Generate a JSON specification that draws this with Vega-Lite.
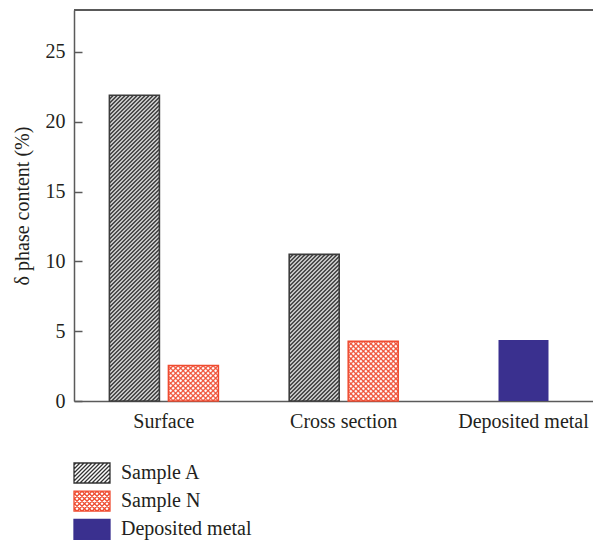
{
"$schema": "https://vega.github.io/schema/vega-lite/v6.json",
"width": 519,
"height": 391,
"autosize": {"type": "none"},
"padding": {"left": 74, "top": 10, "right": 0, "bottom": 141},
"background": "white",
"config": {"view": {"stroke": null}, "font": "Liberation Serif"},
"data": {"values": [
 {"category": "Surface", "series": "Sample A", "value": 21.9},
 {"category": "Surface", "series": "Sample N", "value": 2.55},
 {"category": "Cross section", "series": "Sample A", "value": 10.5},
 {"category": "Cross section", "series": "Sample N", "value": 4.27},
 {"category": "Deposited metal", "series": "Deposited metal", "value": 4.37}
]},
"layer": [
 {
  "transform": [{"filter": "datum.category !== 'Deposited metal'"}],
  "mark": {"type": "bar"},
  "encoding": {
   "x": {"field": "category", "type": "nominal", "sort": ["Surface", "Cross section", "Deposited metal"],
    "scale": {"domain": ["Surface", "Cross section", "Deposited metal"], "range": [0, 539.4], "paddingInner": 0, "paddingOuter": 0},
    "axis": {"title": null, "ticks": false, "grid": false, "domainColor": "#5a5a5a", "domainWidth": 1.5, "labelAngle": 0,
     "labelFont": "Liberation Serif", "labelFontSize": 20, "labelColor": "#231f20", "labelPadding": 10, "labelOverlap": false}},
   "xOffset": {"field": "series", "type": "nominal", "scale": {"domain": ["Sample A", "Sample N"], "paddingInner": 0.1525, "paddingOuter": 0.6}},
   "y": {"field": "value", "type": "quantitative", "scale": {"domain": [0, 28], "nice": false},
    "axis": {"title": "δ phase content (%)", "grid": false, "values": [0, 2.5, 5, 7.5, 10, 12.5, 15, 17.5, 20, 22.5, 25, 27.5],
     "domainColor": "#5a5a5a", "domainWidth": 1.5, "tickColor": "#5a5a5a", "tickWidth": 1.5, "tickSize": -8,
     "encode": {"ticks": {"update": {"x2": {"signal": "datum.value % 5 === 0 ? 8 : 4"}}}},
     "labelExpr": "datum.value % 5 === 0 ? '' + datum.value : ''", "labelOverlap": false,
     "labelFont": "Liberation Serif", "labelFontSize": 20, "labelColor": "#231f20", "labelPadding": 17,
     "titleFont": "Liberation Serif", "titleFontSize": 20, "titleFontWeight": "normal", "titleColor": "#231f20", "titlePadding": 13}},
   "color": {"field": "series", "type": "nominal",
    "scale": {"domain": ["Sample A", "Sample N", "Deposited metal"], "range": ["#ffffff", "#ffffff", "#3a308f"]},
    "legend": {"orient": "none", "legendX": 7, "legendY": 452, "direction": "vertical", "title": null, "padding": 0, "offset": 0,
     "symbolSize": 400, "symbolType": "M-1.8,-1H1.8V1H-1.8Z", "symbolStrokeWidth": 1.3,
     "labelFont": "Liberation Serif", "labelFontSize": 20, "labelColor": "#231f20", "labelOffset": 18, "rowPadding": 2.2, "labelLimit": 300,
     "encode": {"symbols": {"update": {
      "shape": {"signal": "datum.value === 'Sample A' ? 'M-1.8,-1H1.8V1H-1.8ZM-1.8,-0.8L-1.6,-1M-1.8,-0.4L-1.2,-1M-1.8,0L-0.8,-1M-1.8,0.4L-0.4,-1M-1.8,0.8L0,-1M-1.6,1L0.4,-1M-1.2,1L0.8,-1M-0.8,1L1.2,-1M-0.4,1L1.6,-1M0,1L1.8,-0.8M0.4,1L1.8,-0.4M0.8,1L1.8,0M1.2,1L1.8,0.4M1.6,1L1.8,0.8' : datum.value === 'Sample N' ? 'M-1.8,-1H1.8V1H-1.8ZM-1.8,-0.7L-1.5,-1M-1.8,-0.2L-1,-1M-1.8,0.3L-0.5,-1M-1.8,0.8L0,-1M-1.5,1L0.5,-1M-1,1L1,-1M-0.5,1L1.5,-1M0,1L1.8,-0.8M0.5,1L1.8,-0.3M1,1L1.8,0.2M1.5,1L1.8,0.7M1.8,-0.7L1.5,-1M1.8,-0.2L1,-1M1.8,0.3L0.5,-1M1.8,0.8L0,-1M1.5,1L-0.5,-1M1,1L-1,-1M0.5,1L-1.5,-1M0,1L-1.8,-0.8M-0.5,1L-1.8,-0.3M-1,1L-1.8,0.2M-1.5,1L-1.8,0.7' : 'M-1.8,-1H1.8V1H-1.8Z'"},
      "fill": {"signal": "datum.value === 'Deposited metal' ? '#3a308f' : '#ffffff'"},
      "stroke": {"signal": "datum.value === 'Sample A' ? '#333333' : datum.value === 'Sample N' ? '#ef4b30' : '#3a308f'"},
      "strokeWidth": {"value": 1.3},
      "opacity": {"value": 1}
     }}}}}
  }
 },
 {
  "transform": [{"filter": "datum.category === 'Deposited metal'"}],
  "mark": {"type": "bar", "width": 50},
  "encoding": {
   "x": {"field": "category", "type": "nominal", "sort": ["Surface", "Cross section", "Deposited metal"], "scale": {"domain": ["Surface", "Cross section", "Deposited metal"], "range": [0, 539.4], "paddingInner": 0, "paddingOuter": 0}},
   "y": {"field": "value", "type": "quantitative", "scale": {"domain": [0, 28], "nice": false}},
   "color": {"field": "series", "type": "nominal", "scale": {"domain": ["Sample A", "Sample N", "Deposited metal"], "range": ["#ffffff", "#ffffff", "#3a308f"]}, "legend": null}
  }
 },
 {
  "transform": [{"filter": "datum.category === 'Surface' && datum.series === 'Sample A'"}],
  "mark": {"type": "bar", "stroke": "#3c3c3c", "strokeWidth": 1.6,
   "fill": {"gradient": "linear", "x1": 0, "y1": 0, "x2": 0.2083, "y2": 1.274, "stops": [
{"offset":0,"color":"#111"},{"offset":0.005,"color":"#fff"},{"offset":0.01,"color":"#111"},{"offset":0.015,"color":"#fff"},{"offset":0.02,"color":"#111"},{"offset":0.025,"color":"#fff"},{"offset":0.03,"color":"#111"},{"offset":0.035,"color":"#fff"},{"offset":0.04,"color":"#111"},{"offset":0.045,"color":"#fff"},{"offset":0.05,"color":"#111"},{"offset":0.055,"color":"#fff"},{"offset":0.06,"color":"#111"},{"offset":0.065,"color":"#fff"},{"offset":0.07,"color":"#111"},{"offset":0.075,"color":"#fff"},{"offset":0.08,"color":"#111"},{"offset":0.085,"color":"#fff"},{"offset":0.09,"color":"#111"},{"offset":0.095,"color":"#fff"},
{"offset":0.1,"color":"#111"},{"offset":0.105,"color":"#fff"},{"offset":0.11,"color":"#111"},{"offset":0.115,"color":"#fff"},{"offset":0.12,"color":"#111"},{"offset":0.125,"color":"#fff"},{"offset":0.13,"color":"#111"},{"offset":0.135,"color":"#fff"},{"offset":0.14,"color":"#111"},{"offset":0.145,"color":"#fff"},{"offset":0.15,"color":"#111"},{"offset":0.155,"color":"#fff"},{"offset":0.16,"color":"#111"},{"offset":0.165,"color":"#fff"},{"offset":0.17,"color":"#111"},{"offset":0.175,"color":"#fff"},{"offset":0.18,"color":"#111"},{"offset":0.185,"color":"#fff"},{"offset":0.19,"color":"#111"},{"offset":0.195,"color":"#fff"},
{"offset":0.2,"color":"#111"},{"offset":0.205,"color":"#fff"},{"offset":0.21,"color":"#111"},{"offset":0.215,"color":"#fff"},{"offset":0.22,"color":"#111"},{"offset":0.225,"color":"#fff"},{"offset":0.23,"color":"#111"},{"offset":0.235,"color":"#fff"},{"offset":0.24,"color":"#111"},{"offset":0.245,"color":"#fff"},{"offset":0.25,"color":"#111"},{"offset":0.255,"color":"#fff"},{"offset":0.26,"color":"#111"},{"offset":0.265,"color":"#fff"},{"offset":0.27,"color":"#111"},{"offset":0.275,"color":"#fff"},{"offset":0.28,"color":"#111"},{"offset":0.285,"color":"#fff"},{"offset":0.29,"color":"#111"},{"offset":0.295,"color":"#fff"},
{"offset":0.3,"color":"#111"},{"offset":0.305,"color":"#fff"},{"offset":0.31,"color":"#111"},{"offset":0.315,"color":"#fff"},{"offset":0.32,"color":"#111"},{"offset":0.325,"color":"#fff"},{"offset":0.33,"color":"#111"},{"offset":0.335,"color":"#fff"},{"offset":0.34,"color":"#111"},{"offset":0.345,"color":"#fff"},{"offset":0.35,"color":"#111"},{"offset":0.355,"color":"#fff"},{"offset":0.36,"color":"#111"},{"offset":0.365,"color":"#fff"},{"offset":0.37,"color":"#111"},{"offset":0.375,"color":"#fff"},{"offset":0.38,"color":"#111"},{"offset":0.385,"color":"#fff"},{"offset":0.39,"color":"#111"},{"offset":0.395,"color":"#fff"},
{"offset":0.4,"color":"#111"},{"offset":0.405,"color":"#fff"},{"offset":0.41,"color":"#111"},{"offset":0.415,"color":"#fff"},{"offset":0.42,"color":"#111"},{"offset":0.425,"color":"#fff"},{"offset":0.43,"color":"#111"},{"offset":0.435,"color":"#fff"},{"offset":0.44,"color":"#111"},{"offset":0.445,"color":"#fff"},{"offset":0.45,"color":"#111"},{"offset":0.455,"color":"#fff"},{"offset":0.46,"color":"#111"},{"offset":0.465,"color":"#fff"},{"offset":0.47,"color":"#111"},{"offset":0.475,"color":"#fff"},{"offset":0.48,"color":"#111"},{"offset":0.485,"color":"#fff"},{"offset":0.49,"color":"#111"},{"offset":0.495,"color":"#fff"},
{"offset":0.5,"color":"#111"},{"offset":0.505,"color":"#fff"},{"offset":0.51,"color":"#111"},{"offset":0.515,"color":"#fff"},{"offset":0.52,"color":"#111"},{"offset":0.525,"color":"#fff"},{"offset":0.53,"color":"#111"},{"offset":0.535,"color":"#fff"},{"offset":0.54,"color":"#111"},{"offset":0.545,"color":"#fff"},{"offset":0.55,"color":"#111"},{"offset":0.555,"color":"#fff"},{"offset":0.56,"color":"#111"},{"offset":0.565,"color":"#fff"},{"offset":0.57,"color":"#111"},{"offset":0.575,"color":"#fff"},{"offset":0.58,"color":"#111"},{"offset":0.585,"color":"#fff"},{"offset":0.59,"color":"#111"},{"offset":0.595,"color":"#fff"},
{"offset":0.6,"color":"#111"},{"offset":0.605,"color":"#fff"},{"offset":0.61,"color":"#111"},{"offset":0.615,"color":"#fff"},{"offset":0.62,"color":"#111"},{"offset":0.625,"color":"#fff"},{"offset":0.63,"color":"#111"},{"offset":0.635,"color":"#fff"},{"offset":0.64,"color":"#111"},{"offset":0.645,"color":"#fff"},{"offset":0.65,"color":"#111"},{"offset":0.655,"color":"#fff"},{"offset":0.66,"color":"#111"},{"offset":0.665,"color":"#fff"},{"offset":0.67,"color":"#111"},{"offset":0.675,"color":"#fff"},{"offset":0.68,"color":"#111"},{"offset":0.685,"color":"#fff"},{"offset":0.69,"color":"#111"},{"offset":0.695,"color":"#fff"},
{"offset":0.7,"color":"#111"},{"offset":0.705,"color":"#fff"},{"offset":0.71,"color":"#111"},{"offset":0.715,"color":"#fff"},{"offset":0.72,"color":"#111"},{"offset":0.725,"color":"#fff"},{"offset":0.73,"color":"#111"},{"offset":0.735,"color":"#fff"},{"offset":0.74,"color":"#111"},{"offset":0.745,"color":"#fff"},{"offset":0.75,"color":"#111"},{"offset":0.755,"color":"#fff"},{"offset":0.76,"color":"#111"},{"offset":0.765,"color":"#fff"},{"offset":0.77,"color":"#111"},{"offset":0.775,"color":"#fff"},{"offset":0.78,"color":"#111"},{"offset":0.785,"color":"#fff"},{"offset":0.79,"color":"#111"},{"offset":0.795,"color":"#fff"},
{"offset":0.8,"color":"#111"},{"offset":0.805,"color":"#fff"},{"offset":0.81,"color":"#111"},{"offset":0.815,"color":"#fff"},{"offset":0.82,"color":"#111"},{"offset":0.825,"color":"#fff"},{"offset":0.83,"color":"#111"},{"offset":0.835,"color":"#fff"},{"offset":0.84,"color":"#111"},{"offset":0.845,"color":"#fff"},{"offset":0.85,"color":"#111"},{"offset":0.855,"color":"#fff"},{"offset":0.86,"color":"#111"},{"offset":0.865,"color":"#fff"},{"offset":0.87,"color":"#111"},{"offset":0.875,"color":"#fff"},{"offset":0.88,"color":"#111"},{"offset":0.885,"color":"#fff"},{"offset":0.89,"color":"#111"},{"offset":0.895,"color":"#fff"}
   ]}},
  "encoding": {
   "x": {"field": "category", "type": "nominal", "sort": ["Surface", "Cross section", "Deposited metal"], "scale": {"domain": ["Surface", "Cross section", "Deposited metal"], "range": [0, 539.4], "paddingInner": 0, "paddingOuter": 0}},
   "xOffset": {"field": "series", "type": "nominal", "scale": {"domain": ["Sample A", "Sample N"], "paddingInner": 0.1525, "paddingOuter": 0.6}},
   "y": {"field": "value", "type": "quantitative", "scale": {"domain": [0, 28], "nice": false}}
  }
 },
 {
  "transform": [{"filter": "datum.category === 'Cross section' && datum.series === 'Sample A'"}],
  "mark": {"type": "bar", "stroke": "#3c3c3c", "strokeWidth": 1.6,
   "fill": {"gradient": "linear", "x1": 0, "y1": 0, "x2": 0.4167, "y2": 1.222, "stops": [
{"offset":0,"color":"#111"},{"offset":0.01,"color":"#fff"},{"offset":0.02,"color":"#111"},{"offset":0.03,"color":"#fff"},{"offset":0.04,"color":"#111"},{"offset":0.05,"color":"#fff"},{"offset":0.06,"color":"#111"},{"offset":0.07,"color":"#fff"},{"offset":0.08,"color":"#111"},{"offset":0.09,"color":"#fff"},
{"offset":0.1,"color":"#111"},{"offset":0.11,"color":"#fff"},{"offset":0.12,"color":"#111"},{"offset":0.13,"color":"#fff"},{"offset":0.14,"color":"#111"},{"offset":0.15,"color":"#fff"},{"offset":0.16,"color":"#111"},{"offset":0.17,"color":"#fff"},{"offset":0.18,"color":"#111"},{"offset":0.19,"color":"#fff"},
{"offset":0.2,"color":"#111"},{"offset":0.21,"color":"#fff"},{"offset":0.22,"color":"#111"},{"offset":0.23,"color":"#fff"},{"offset":0.24,"color":"#111"},{"offset":0.25,"color":"#fff"},{"offset":0.26,"color":"#111"},{"offset":0.27,"color":"#fff"},{"offset":0.28,"color":"#111"},{"offset":0.29,"color":"#fff"},
{"offset":0.3,"color":"#111"},{"offset":0.31,"color":"#fff"},{"offset":0.32,"color":"#111"},{"offset":0.33,"color":"#fff"},{"offset":0.34,"color":"#111"},{"offset":0.35,"color":"#fff"},{"offset":0.36,"color":"#111"},{"offset":0.37,"color":"#fff"},{"offset":0.38,"color":"#111"},{"offset":0.39,"color":"#fff"},
{"offset":0.4,"color":"#111"},{"offset":0.41,"color":"#fff"},{"offset":0.42,"color":"#111"},{"offset":0.43,"color":"#fff"},{"offset":0.44,"color":"#111"},{"offset":0.45,"color":"#fff"},{"offset":0.46,"color":"#111"},{"offset":0.47,"color":"#fff"},{"offset":0.48,"color":"#111"},{"offset":0.49,"color":"#fff"},
{"offset":0.5,"color":"#111"},{"offset":0.51,"color":"#fff"},{"offset":0.52,"color":"#111"},{"offset":0.53,"color":"#fff"},{"offset":0.54,"color":"#111"},{"offset":0.55,"color":"#fff"},{"offset":0.56,"color":"#111"},{"offset":0.57,"color":"#fff"},{"offset":0.58,"color":"#111"},{"offset":0.59,"color":"#fff"},
{"offset":0.6,"color":"#111"},{"offset":0.61,"color":"#fff"},{"offset":0.62,"color":"#111"},{"offset":0.63,"color":"#fff"},{"offset":0.64,"color":"#111"},{"offset":0.65,"color":"#fff"},{"offset":0.66,"color":"#111"},{"offset":0.67,"color":"#fff"},{"offset":0.68,"color":"#111"},{"offset":0.69,"color":"#fff"},
{"offset":0.7,"color":"#111"},{"offset":0.71,"color":"#fff"},{"offset":0.72,"color":"#111"},{"offset":0.73,"color":"#fff"},{"offset":0.74,"color":"#111"},{"offset":0.75,"color":"#fff"},{"offset":0.76,"color":"#111"},{"offset":0.77,"color":"#fff"},{"offset":0.78,"color":"#111"},{"offset":0.79,"color":"#fff"},
{"offset":0.8,"color":"#111"},{"offset":0.81,"color":"#fff"},{"offset":0.82,"color":"#111"},{"offset":0.83,"color":"#fff"},{"offset":0.84,"color":"#111"},{"offset":0.85,"color":"#fff"},{"offset":0.86,"color":"#111"},{"offset":0.87,"color":"#fff"},{"offset":0.88,"color":"#111"},{"offset":0.89,"color":"#fff"},
{"offset":0.9,"color":"#111"},{"offset":0.91,"color":"#fff"},{"offset":0.92,"color":"#111"},{"offset":0.93,"color":"#fff"},{"offset":0.94,"color":"#111"},{"offset":0.95,"color":"#fff"},{"offset":0.96,"color":"#111"},{"offset":0.97,"color":"#fff"},{"offset":0.98,"color":"#111"},{"offset":0.99,"color":"#fff"}
   ]}},
  "encoding": {
   "x": {"field": "category", "type": "nominal", "sort": ["Surface", "Cross section", "Deposited metal"], "scale": {"domain": ["Surface", "Cross section", "Deposited metal"], "range": [0, 539.4], "paddingInner": 0, "paddingOuter": 0}},
   "xOffset": {"field": "series", "type": "nominal", "scale": {"domain": ["Sample A", "Sample N"], "paddingInner": 0.1525, "paddingOuter": 0.6}},
   "y": {"field": "value", "type": "quantitative", "scale": {"domain": [0, 28], "nice": false}}
  }
 },
 {
  "transform": [{"filter": "datum.category === 'Surface' && datum.series === 'Sample N'"}],
  "mark": {"type": "bar",
   "fill": {"gradient": "linear", "x1": 0, "y1": 0, "x2": 1.3269, "y2": 0.9451, "stops": [
{"offset":0,"color":"#ef4b30"},{"offset":0.017,"color":"#fff"},{"offset":0.033,"color":"#fff"},{"offset":0.05,"color":"#ef4b30"},{"offset":0.067,"color":"#fff"},{"offset":0.083,"color":"#fff"},
{"offset":0.1,"color":"#ef4b30"},{"offset":0.117,"color":"#fff"},{"offset":0.133,"color":"#fff"},{"offset":0.15,"color":"#ef4b30"},{"offset":0.167,"color":"#fff"},{"offset":0.183,"color":"#fff"},
{"offset":0.2,"color":"#ef4b30"},{"offset":0.217,"color":"#fff"},{"offset":0.233,"color":"#fff"},{"offset":0.25,"color":"#ef4b30"},{"offset":0.267,"color":"#fff"},{"offset":0.283,"color":"#fff"},
{"offset":0.3,"color":"#ef4b30"},{"offset":0.317,"color":"#fff"},{"offset":0.333,"color":"#fff"},{"offset":0.35,"color":"#ef4b30"},{"offset":0.367,"color":"#fff"},{"offset":0.383,"color":"#fff"},
{"offset":0.4,"color":"#ef4b30"},{"offset":0.417,"color":"#fff"},{"offset":0.433,"color":"#fff"},{"offset":0.45,"color":"#ef4b30"},{"offset":0.467,"color":"#fff"},{"offset":0.483,"color":"#fff"},
{"offset":0.5,"color":"#ef4b30"},{"offset":0.517,"color":"#fff"},{"offset":0.533,"color":"#fff"},{"offset":0.55,"color":"#ef4b30"},{"offset":0.567,"color":"#fff"},{"offset":0.583,"color":"#fff"},
{"offset":0.6,"color":"#ef4b30"},{"offset":0.617,"color":"#fff"},{"offset":0.633,"color":"#fff"},{"offset":0.65,"color":"#ef4b30"},{"offset":0.667,"color":"#fff"},{"offset":0.683,"color":"#fff"},
{"offset":0.7,"color":"#ef4b30"},{"offset":0.717,"color":"#fff"},{"offset":0.733,"color":"#fff"},{"offset":0.75,"color":"#ef4b30"},{"offset":0.767,"color":"#fff"},{"offset":0.783,"color":"#fff"},
{"offset":0.8,"color":"#ef4b30"},{"offset":0.817,"color":"#fff"},{"offset":0.833,"color":"#fff"},{"offset":0.85,"color":"#ef4b30"},{"offset":0.867,"color":"#fff"},{"offset":0.883,"color":"#fff"},
{"offset":0.9,"color":"#ef4b30"}
   ]}},
  "encoding": {
   "x": {"field": "category", "type": "nominal", "sort": ["Surface", "Cross section", "Deposited metal"], "scale": {"domain": ["Surface", "Cross section", "Deposited metal"], "range": [0, 539.4], "paddingInner": 0, "paddingOuter": 0}},
   "xOffset": {"field": "series", "type": "nominal", "scale": {"domain": ["Sample A", "Sample N"], "paddingInner": 0.1525, "paddingOuter": 0.6}},
   "y": {"field": "value", "type": "quantitative", "scale": {"domain": [0, 28], "nice": false}}
  }
 },
 {
  "transform": [{"filter": "datum.category === 'Surface' && datum.series === 'Sample N'"}],
  "mark": {"type": "bar", "stroke": "#ef4b30", "strokeWidth": 1.5,
   "fill": {"gradient": "linear", "x1": 0, "y1": 1, "x2": 1.3269, "y2": 0.0549, "stops": [
{"offset":0,"color":"#ef4b30"},{"offset":0.017,"color":"rgba(239,75,48,0)"},{"offset":0.033,"color":"rgba(239,75,48,0)"},{"offset":0.05,"color":"#ef4b30"},{"offset":0.067,"color":"rgba(239,75,48,0)"},{"offset":0.083,"color":"rgba(239,75,48,0)"},
{"offset":0.1,"color":"#ef4b30"},{"offset":0.117,"color":"rgba(239,75,48,0)"},{"offset":0.133,"color":"rgba(239,75,48,0)"},{"offset":0.15,"color":"#ef4b30"},{"offset":0.167,"color":"rgba(239,75,48,0)"},{"offset":0.183,"color":"rgba(239,75,48,0)"},
{"offset":0.2,"color":"#ef4b30"},{"offset":0.217,"color":"rgba(239,75,48,0)"},{"offset":0.233,"color":"rgba(239,75,48,0)"},{"offset":0.25,"color":"#ef4b30"},{"offset":0.267,"color":"rgba(239,75,48,0)"},{"offset":0.283,"color":"rgba(239,75,48,0)"},
{"offset":0.3,"color":"#ef4b30"},{"offset":0.317,"color":"rgba(239,75,48,0)"},{"offset":0.333,"color":"rgba(239,75,48,0)"},{"offset":0.35,"color":"#ef4b30"},{"offset":0.367,"color":"rgba(239,75,48,0)"},{"offset":0.383,"color":"rgba(239,75,48,0)"},
{"offset":0.4,"color":"#ef4b30"},{"offset":0.417,"color":"rgba(239,75,48,0)"},{"offset":0.433,"color":"rgba(239,75,48,0)"},{"offset":0.45,"color":"#ef4b30"},{"offset":0.467,"color":"rgba(239,75,48,0)"},{"offset":0.483,"color":"rgba(239,75,48,0)"},
{"offset":0.5,"color":"#ef4b30"},{"offset":0.517,"color":"rgba(239,75,48,0)"},{"offset":0.533,"color":"rgba(239,75,48,0)"},{"offset":0.55,"color":"#ef4b30"},{"offset":0.567,"color":"rgba(239,75,48,0)"},{"offset":0.583,"color":"rgba(239,75,48,0)"},
{"offset":0.6,"color":"#ef4b30"},{"offset":0.617,"color":"rgba(239,75,48,0)"},{"offset":0.633,"color":"rgba(239,75,48,0)"},{"offset":0.65,"color":"#ef4b30"},{"offset":0.667,"color":"rgba(239,75,48,0)"},{"offset":0.683,"color":"rgba(239,75,48,0)"},
{"offset":0.7,"color":"#ef4b30"},{"offset":0.717,"color":"rgba(239,75,48,0)"},{"offset":0.733,"color":"rgba(239,75,48,0)"},{"offset":0.75,"color":"#ef4b30"},{"offset":0.767,"color":"rgba(239,75,48,0)"},{"offset":0.783,"color":"rgba(239,75,48,0)"},
{"offset":0.8,"color":"#ef4b30"},{"offset":0.817,"color":"rgba(239,75,48,0)"},{"offset":0.833,"color":"rgba(239,75,48,0)"},{"offset":0.85,"color":"#ef4b30"},{"offset":0.867,"color":"rgba(239,75,48,0)"},{"offset":0.883,"color":"rgba(239,75,48,0)"},
{"offset":0.9,"color":"#ef4b30"}
   ]}},
  "encoding": {
   "x": {"field": "category", "type": "nominal", "sort": ["Surface", "Cross section", "Deposited metal"], "scale": {"domain": ["Surface", "Cross section", "Deposited metal"], "range": [0, 539.4], "paddingInner": 0, "paddingOuter": 0}},
   "xOffset": {"field": "series", "type": "nominal", "scale": {"domain": ["Sample A", "Sample N"], "paddingInner": 0.1525, "paddingOuter": 0.6}},
   "y": {"field": "value", "type": "quantitative", "scale": {"domain": [0, 28], "nice": false}}
  }
 },
 {
  "transform": [{"filter": "datum.category === 'Cross section' && datum.series === 'Sample N'"}],
  "mark": {"type": "bar",
   "fill": {"gradient": "linear", "x1": 0, "y1": 0, "x2": 1.0321, "y2": 1.2309, "stops": [
{"offset":0,"color":"#ef4b30"},{"offset":0.014,"color":"#fff"},{"offset":0.026,"color":"#fff"},{"offset":0.04,"color":"#ef4b30"},{"offset":0.054,"color":"#fff"},{"offset":0.066,"color":"#fff"},
{"offset":0.08,"color":"#ef4b30"},{"offset":0.094,"color":"#fff"},{"offset":0.106,"color":"#fff"},{"offset":0.12,"color":"#ef4b30"},{"offset":0.134,"color":"#fff"},{"offset":0.146,"color":"#fff"},
{"offset":0.16,"color":"#ef4b30"},{"offset":0.174,"color":"#fff"},{"offset":0.186,"color":"#fff"},{"offset":0.2,"color":"#ef4b30"},{"offset":0.214,"color":"#fff"},{"offset":0.226,"color":"#fff"},
{"offset":0.24,"color":"#ef4b30"},{"offset":0.254,"color":"#fff"},{"offset":0.266,"color":"#fff"},{"offset":0.28,"color":"#ef4b30"},{"offset":0.294,"color":"#fff"},{"offset":0.306,"color":"#fff"},
{"offset":0.32,"color":"#ef4b30"},{"offset":0.334,"color":"#fff"},{"offset":0.346,"color":"#fff"},{"offset":0.36,"color":"#ef4b30"},{"offset":0.374,"color":"#fff"},{"offset":0.386,"color":"#fff"},
{"offset":0.4,"color":"#ef4b30"},{"offset":0.414,"color":"#fff"},{"offset":0.426,"color":"#fff"},{"offset":0.44,"color":"#ef4b30"},{"offset":0.454,"color":"#fff"},{"offset":0.466,"color":"#fff"},
{"offset":0.48,"color":"#ef4b30"},{"offset":0.494,"color":"#fff"},{"offset":0.506,"color":"#fff"},{"offset":0.52,"color":"#ef4b30"},{"offset":0.534,"color":"#fff"},{"offset":0.546,"color":"#fff"},
{"offset":0.56,"color":"#ef4b30"},{"offset":0.574,"color":"#fff"},{"offset":0.586,"color":"#fff"},{"offset":0.6,"color":"#ef4b30"},{"offset":0.614,"color":"#fff"},{"offset":0.626,"color":"#fff"},
{"offset":0.64,"color":"#ef4b30"},{"offset":0.654,"color":"#fff"},{"offset":0.666,"color":"#fff"},{"offset":0.68,"color":"#ef4b30"},{"offset":0.694,"color":"#fff"},{"offset":0.706,"color":"#fff"},
{"offset":0.72,"color":"#ef4b30"},{"offset":0.734,"color":"#fff"},{"offset":0.746,"color":"#fff"},{"offset":0.76,"color":"#ef4b30"},{"offset":0.774,"color":"#fff"},{"offset":0.786,"color":"#fff"},
{"offset":0.8,"color":"#ef4b30"},{"offset":0.814,"color":"#fff"},{"offset":0.826,"color":"#fff"},{"offset":0.84,"color":"#ef4b30"},{"offset":0.854,"color":"#fff"},{"offset":0.866,"color":"#fff"},
{"offset":0.88,"color":"#ef4b30"}
   ]}},
  "encoding": {
   "x": {"field": "category", "type": "nominal", "sort": ["Surface", "Cross section", "Deposited metal"], "scale": {"domain": ["Surface", "Cross section", "Deposited metal"], "range": [0, 539.4], "paddingInner": 0, "paddingOuter": 0}},
   "xOffset": {"field": "series", "type": "nominal", "scale": {"domain": ["Sample A", "Sample N"], "paddingInner": 0.1525, "paddingOuter": 0.6}},
   "y": {"field": "value", "type": "quantitative", "scale": {"domain": [0, 28], "nice": false}}
  }
 },
 {
  "transform": [{"filter": "datum.category === 'Cross section' && datum.series === 'Sample N'"}],
  "mark": {"type": "bar", "stroke": "#ef4b30", "strokeWidth": 1.5,
   "fill": {"gradient": "linear", "x1": 0, "y1": 1, "x2": 1.0321, "y2": -0.2309, "stops": [
{"offset":0,"color":"#ef4b30"},{"offset":0.014,"color":"rgba(239,75,48,0)"},{"offset":0.026,"color":"rgba(239,75,48,0)"},{"offset":0.04,"color":"#ef4b30"},{"offset":0.054,"color":"rgba(239,75,48,0)"},{"offset":0.066,"color":"rgba(239,75,48,0)"},
{"offset":0.08,"color":"#ef4b30"},{"offset":0.094,"color":"rgba(239,75,48,0)"},{"offset":0.106,"color":"rgba(239,75,48,0)"},{"offset":0.12,"color":"#ef4b30"},{"offset":0.134,"color":"rgba(239,75,48,0)"},{"offset":0.146,"color":"rgba(239,75,48,0)"},
{"offset":0.16,"color":"#ef4b30"},{"offset":0.174,"color":"rgba(239,75,48,0)"},{"offset":0.186,"color":"rgba(239,75,48,0)"},{"offset":0.2,"color":"#ef4b30"},{"offset":0.214,"color":"rgba(239,75,48,0)"},{"offset":0.226,"color":"rgba(239,75,48,0)"},
{"offset":0.24,"color":"#ef4b30"},{"offset":0.254,"color":"rgba(239,75,48,0)"},{"offset":0.266,"color":"rgba(239,75,48,0)"},{"offset":0.28,"color":"#ef4b30"},{"offset":0.294,"color":"rgba(239,75,48,0)"},{"offset":0.306,"color":"rgba(239,75,48,0)"},
{"offset":0.32,"color":"#ef4b30"},{"offset":0.334,"color":"rgba(239,75,48,0)"},{"offset":0.346,"color":"rgba(239,75,48,0)"},{"offset":0.36,"color":"#ef4b30"},{"offset":0.374,"color":"rgba(239,75,48,0)"},{"offset":0.386,"color":"rgba(239,75,48,0)"},
{"offset":0.4,"color":"#ef4b30"},{"offset":0.414,"color":"rgba(239,75,48,0)"},{"offset":0.426,"color":"rgba(239,75,48,0)"},{"offset":0.44,"color":"#ef4b30"},{"offset":0.454,"color":"rgba(239,75,48,0)"},{"offset":0.466,"color":"rgba(239,75,48,0)"},
{"offset":0.48,"color":"#ef4b30"},{"offset":0.494,"color":"rgba(239,75,48,0)"},{"offset":0.506,"color":"rgba(239,75,48,0)"},{"offset":0.52,"color":"#ef4b30"},{"offset":0.534,"color":"rgba(239,75,48,0)"},{"offset":0.546,"color":"rgba(239,75,48,0)"},
{"offset":0.56,"color":"#ef4b30"},{"offset":0.574,"color":"rgba(239,75,48,0)"},{"offset":0.586,"color":"rgba(239,75,48,0)"},{"offset":0.6,"color":"#ef4b30"},{"offset":0.614,"color":"rgba(239,75,48,0)"},{"offset":0.626,"color":"rgba(239,75,48,0)"},
{"offset":0.64,"color":"#ef4b30"},{"offset":0.654,"color":"rgba(239,75,48,0)"},{"offset":0.666,"color":"rgba(239,75,48,0)"},{"offset":0.68,"color":"#ef4b30"},{"offset":0.694,"color":"rgba(239,75,48,0)"},{"offset":0.706,"color":"rgba(239,75,48,0)"},
{"offset":0.72,"color":"#ef4b30"},{"offset":0.734,"color":"rgba(239,75,48,0)"},{"offset":0.746,"color":"rgba(239,75,48,0)"},{"offset":0.76,"color":"#ef4b30"},{"offset":0.774,"color":"rgba(239,75,48,0)"},{"offset":0.786,"color":"rgba(239,75,48,0)"},
{"offset":0.8,"color":"#ef4b30"},{"offset":0.814,"color":"rgba(239,75,48,0)"},{"offset":0.826,"color":"rgba(239,75,48,0)"},{"offset":0.84,"color":"#ef4b30"},{"offset":0.854,"color":"rgba(239,75,48,0)"},{"offset":0.866,"color":"rgba(239,75,48,0)"},
{"offset":0.88,"color":"#ef4b30"}
   ]}},
  "encoding": {
   "x": {"field": "category", "type": "nominal", "sort": ["Surface", "Cross section", "Deposited metal"], "scale": {"domain": ["Surface", "Cross section", "Deposited metal"], "range": [0, 539.4], "paddingInner": 0, "paddingOuter": 0}},
   "xOffset": {"field": "series", "type": "nominal", "scale": {"domain": ["Sample A", "Sample N"], "paddingInner": 0.1525, "paddingOuter": 0.6}},
   "y": {"field": "value", "type": "quantitative", "scale": {"domain": [0, 28], "nice": false}}
  }
 },
 {
  "mark": {"type": "rule", "color": "#5a5a5a", "strokeWidth": 1.5},
  "encoding": {"y": {"datum": 28, "type": "quantitative", "scale": {"domain": [0, 28], "nice": false}}}
 }
]
}
